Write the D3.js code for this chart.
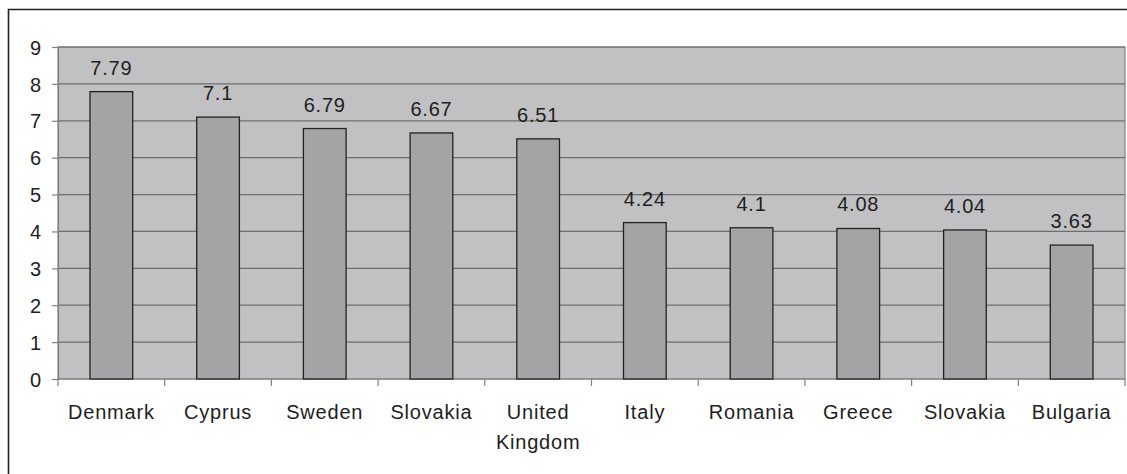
<!DOCTYPE html>
<html>
<head>
<meta charset="utf-8">
<script src="https://cdn.jsdelivr.net/npm/d3@7"></script>
<style>
  html, body { margin: 0; padding: 0; background: #fff; }
  svg text { font-family: "Liberation Sans", Arial, sans-serif; fill: #1e1e1e; }
</style>
</head>
<body>
<svg id="chart" width="1127" height="474"></svg>
<script>
// Countries and their scores
const countries = ["Denmark", "Cyprus", "Sweden", "Slovakia", "United Kingdom", "Italy", "Romania", "Greece", "Slovakia", "Bulgaria"];
const values = [7.79, 7.1, 6.79, 6.67, 6.51, 4.24, 4.1, 4.08, 4.04, 3.63];
const yTicks = [0, 1, 2, 3, 4, 5, 6, 7, 8, 9];

const svg = d3.select("#chart");
const plot = { left: 58, right: 1125, top: 47, bottom: 379 };
const fontSize = 20;

// Outer frame (left and top edges visible)
svg.append("path")
  .attr("d", `M8.5,474 L8.5,9.5 L1127,9.5`)
  .attr("fill", "none")
  .attr("stroke", "#222")
  .attr("stroke-width", 1.6);

const idx = countries.map((d, i) => i);
const x = d3.scaleBand().domain(idx).range([plot.left, plot.right]).padding(0);
const y = d3.scaleLinear().domain([0, 9]).range([plot.bottom, plot.top]);

// Plot background
svg.append("rect")
  .attr("x", plot.left).attr("y", plot.top)
  .attr("width", plot.right - plot.left).attr("height", plot.bottom - plot.top)
  .attr("fill", "#c1c1c3")
  .attr("stroke", "#868686").attr("stroke-width", 1.2);

// Horizontal gridlines
svg.append("g").selectAll("line").data(yTicks.filter(t => t > 0)).join("line")
  .attr("x1", plot.left).attr("x2", plot.right)
  .attr("y1", d => y(d)).attr("y2", d => y(d))
  .attr("stroke", "#6e6e6e").attr("stroke-width", 1.2);

// Y axis
const yAxis = svg.append("g")
  .attr("transform", `translate(${plot.left},0)`)
  .call(d3.axisLeft(y).tickValues(yTicks).tickSize(6).tickPadding(11).tickFormat(d3.format("d")));
yAxis.select(".domain").attr("stroke", "#808080").attr("stroke-width", 1.2);
yAxis.selectAll(".tick line").attr("stroke", "#808080").attr("stroke-width", 1.2);
yAxis.selectAll(".tick text")
  .attr("font-size", fontSize).attr("fill", "#1e1e1e").attr("dy", "0.36em")
  .style("font-family", "'Liberation Sans', Arial, sans-serif");

// X axis: ticks at category boundaries
const bounds = idx.concat([countries.length]);
const xAxis = svg.append("g");
xAxis.append("line")
  .attr("x1", plot.left).attr("x2", plot.right)
  .attr("y1", plot.bottom).attr("y2", plot.bottom)
  .attr("stroke", "#808080").attr("stroke-width", 1.2);
xAxis.selectAll("line.tk").data(bounds).join("line").attr("class", "tk")
  .attr("x1", d => plot.left + d * x.bandwidth()).attr("x2", d => plot.left + d * x.bandwidth())
  .attr("y1", plot.bottom).attr("y2", plot.bottom + 7)
  .attr("stroke", "#808080").attr("stroke-width", 1.2);

// Bars
const barW = x.bandwidth() * 0.4;
svg.append("g").selectAll("rect").data(values).join("rect")
  .attr("x", (d, i) => x(i) + (x.bandwidth() - barW) / 2)
  .attr("y", d => y(d))
  .attr("width", barW)
  .attr("height", d => y(0) - y(d))
  .attr("fill", "#a4a4a7")
  .attr("stroke", "#222").attr("stroke-width", 1.3);

// Value labels
svg.append("g").selectAll("text").data(values).join("text")
  .attr("x", (d, i) => x(i) + x.bandwidth() / 2)
  .attr("y", d => y(d) - 17)
  .attr("text-anchor", "middle")
  .attr("font-size", fontSize)
  .style("letter-spacing", "0.8px")
  .text(d => d);

// Category labels (wrapped onto two lines where needed)
const cat = svg.append("g").selectAll("text").data(countries).join("text")
  .attr("x", (d, i) => x(i) + x.bandwidth() / 2)
  .attr("y", 419)
  .attr("text-anchor", "middle")
  .attr("font-size", fontSize)
  .style("letter-spacing", "0.8px");
cat.each(function(d) {
  const words = d.split(" ");
  const t = d3.select(this);
  words.forEach((w, k) => {
    t.append("tspan")
      .attr("x", t.attr("x"))
      .attr("dy", k === 0 ? 0 : 30)
      .text(w);
  });
});
</script>
</body>
</html>
